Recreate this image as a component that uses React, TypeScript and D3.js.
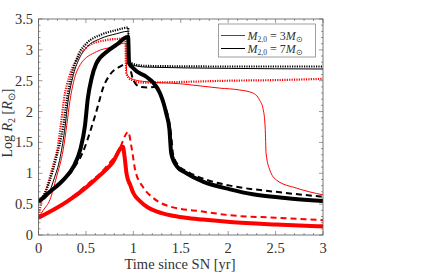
import React from "react";
import * as d3 from "d3";

// ---- data ----
const xTicks = [0, 0.5, 1, 1.5, 2, 2.5, 3];
const yTicks = [0, 0.5, 1, 1.5, 2, 2.5, 3, 3.5];

// 3 Msun (red)
const r3ThickX = [0, 0.3, 0.51, 0.65, 0.78, 0.89, 0.905, 0.93, 0.97, 1.0, 1.07, 1.15, 1.25, 1.39, 1.55, 1.73, 2.02, 2.5, 3];
const r3ThickY = [0.28, 0.54, 0.78, 0.97, 1.17, 1.43, 1.3, 0.98, 0.8, 0.68, 0.55, 0.45, 0.38, 0.32, 0.28, 0.25, 0.21, 0.17, 0.14];
const r3DashX = [0, 0.3, 0.5, 0.7, 0.85, 0.946, 0.98, 1.02, 1.1, 1.21, 1.39, 1.73, 2.02, 2.5, 3];
const r3DashY = [0.28, 0.55, 0.8, 1.08, 1.38, 1.67, 1.43, 1.05, 0.78, 0.6, 0.46, 0.38, 0.32, 0.28, 0.24];
const r3DotX = [0, 0.02, 0.09, 0.16, 0.2, 0.24, 0.27, 0.33, 0.44, 0.54, 0.72, 0.89, 0.915, 0.925, 0.97, 1.1, 1.5, 2, 2.5, 3];
const r3DotY = [0.28, 0.46, 0.78, 1.16, 1.4, 1.84, 2.21, 2.59, 2.92, 3.08, 3.16, 3.19, 3.2, 2.62, 2.52, 2.47, 2.48, 2.5, 2.51, 2.53];
const r3ThinX = [0, 0.05, 0.12, 0.19, 0.26, 0.3, 0.33, 0.37, 0.44, 0.61, 0.79, 0.91, 0.92, 0.93, 0.97, 1.1, 1.5, 1.91, 2.12, 2.26, 2.33, 2.37, 2.39, 2.4, 2.44, 2.51, 2.72, 3];
const r3ThinY = [0.28, 0.4, 0.57, 0.94, 1.38, 1.8, 2.16, 2.48, 2.76, 2.97, 3.05, 3.11, 3.11, 2.62, 2.54, 2.49, 2.45, 2.38, 2.35, 2.3, 2.19, 2.03, 1.75, 1.32, 1.05, 0.89, 0.76, 0.65];

// 7 Msun (black)
const b7ThickX = [0, 0.12, 0.26, 0.37, 0.44, 0.49, 0.52, 0.56, 0.61, 0.72, 0.82, 0.94, 0.945, 0.955, 1.0, 1.14, 1.21, 1.28, 1.32, 1.35, 1.38, 1.4, 1.46, 1.56, 1.74, 2.02, 2.26, 2.6, 3];
const b7ThickY = [0.54, 0.7, 0.89, 1.11, 1.38, 1.77, 2.21, 2.54, 2.78, 2.97, 3.08, 3.21, 3.21, 2.8, 2.7, 2.56, 2.47, 2.3, 2.13, 1.95, 1.72, 1.32, 1.11, 1.0, 0.86, 0.74, 0.66, 0.6, 0.55];
const b7DashX = [0, 0.12, 0.26, 0.37, 0.47, 0.56, 0.6, 0.63, 0.68, 0.75, 0.86, 0.945, 1.0, 1.07, 1.15, 1.22, 1.29, 1.33, 1.37, 1.4, 1.42, 1.48, 1.58, 1.76, 2.02, 2.5, 3];
const b7DashY = [0.54, 0.7, 0.88, 1.08, 1.35, 1.75, 1.95, 2.11, 2.38, 2.59, 2.73, 2.78, 2.51, 2.4, 2.39, 2.4, 2.28, 2.1, 1.9, 1.6, 1.3, 1.12, 1.02, 0.9, 0.8, 0.7, 0.62];
const b7DotX = [0, 0.05, 0.12, 0.19, 0.26, 0.3, 0.35, 0.42, 0.51, 0.65, 0.82, 0.94, 0.945, 0.955, 1.0, 1.14, 2, 3];
const b7DotY = [0.54, 0.62, 0.89, 1.27, 1.75, 2.21, 2.59, 2.92, 3.11, 3.24, 3.32, 3.36, 3.36, 2.82, 2.77, 2.74, 2.73, 2.73];
const b7ThinX = [0, 0.09, 0.16, 0.23, 0.28, 0.31, 0.36, 0.43, 0.52, 0.65, 0.82, 0.94, 0.945, 0.955, 1.0, 1.14, 2, 3];
const b7ThinY = [0.54, 0.62, 0.89, 1.27, 1.75, 2.15, 2.55, 2.86, 3.06, 3.18, 3.26, 3.3, 3.3, 2.8, 2.75, 2.72, 2.7, 2.69];

const legendMasses = ["3", "7"];

const RED = "#ff0000";
const BLACK = "#000000";

type Series = { xs: number[]; ys: number[]; color: string; width: number; dash?: string };

const series: Series[] = [
  { xs: r3ThinX, ys: r3ThinY, color: RED, width: 1 },
  { xs: b7ThinX, ys: b7ThinY, color: BLACK, width: 1 },
  { xs: r3DotX, ys: r3DotY, color: RED, width: 2.2, dash: "1.2 1.2" },
  { xs: b7DotX, ys: b7DotY, color: BLACK, width: 2.2, dash: "1.2 1.2" },
  { xs: r3DashX, ys: r3DashY, color: RED, width: 2, dash: "6 4" },
  { xs: b7DashX, ys: b7DashY, color: BLACK, width: 2, dash: "6 4" },
  { xs: r3ThickX, ys: r3ThickY, color: RED, width: 4 },
  { xs: b7ThickX, ys: b7ThickY, color: BLACK, width: 4 },
];

const FONT = "Liberation Serif, Times New Roman, serif";

export default function App() {
  const W = 435, H = 273;
  const L = 38.5, R = 323, T = 19, B = 235;
  const x = d3.scaleLinear().domain([0, 3]).range([L, R]);
  const y = d3.scaleLinear().domain([0, 3.5]).range([B, T]);
  const line = d3
    .line<[number, number]>()
    .x((d) => x(d[0]))
    .y((d) => y(d[1]))
    .curve(d3.curveMonotoneX);

  const xMinor = d3.range(0, 3.0001, 0.1);
  const yMinor = d3.range(0, 3.5001, 0.1);
  const axisColor = "#555";

  return (
    <svg width={W} height={H} style={{ position: "absolute", left: 0, top: 0 }}>
      <rect x={0} y={0} width={W} height={H} fill="#fff" />
      <defs>
        <clipPath id="plotclip">
          <rect x={L} y={T} width={R - L} height={B - T} />
        </clipPath>
      </defs>
      <g clipPath="url(#plotclip)">
        {series.map((s, i) => (
          <path
            key={i}
            d={line(s.xs.map((v, j) => [v, s.ys[j]] as [number, number])) || ""}
            fill="none"
            stroke={s.color}
            strokeWidth={s.width}
            strokeDasharray={s.dash}
            strokeLinejoin="round"
          />
        ))}
      </g>
      {/* ticks */}
      <g stroke={axisColor} strokeWidth={0.6}>
        {xMinor.map((v, i) => {
          const major = Math.abs(v * 2 - Math.round(v * 2)) < 1e-6;
          const len = major ? 4 : 2;
          return (
            <g key={"xt" + i}>
              <line x1={x(v)} x2={x(v)} y1={B} y2={B - len} />
              <line x1={x(v)} x2={x(v)} y1={T} y2={T + len} />
            </g>
          );
        })}
        {yMinor.map((v, i) => {
          const major = Math.abs(v * 2 - Math.round(v * 2)) < 1e-6;
          const len = major ? 4 : 2;
          return (
            <g key={"yt" + i}>
              <line x1={L} x2={L + len} y1={y(v)} y2={y(v)} />
              <line x1={R} x2={R - len} y1={y(v)} y2={y(v)} />
            </g>
          );
        })}
      </g>
      <rect x={L} y={T} width={R - L} height={B - T} fill="none" stroke={axisColor} strokeWidth={0.8} />
      {/* tick labels */}
      <g style={{ fontFamily: FONT }} fontSize={14.5} fill="#333">
        {xTicks.map((v) => (
          <text key={"xl" + v} x={x(v)} y={253} textAnchor="middle">
            {String(v)}
          </text>
        ))}
        {yTicks.map((v) => (
          <text key={"yl" + v} x={33} y={y(v) + 5} textAnchor="end">
            {String(v)}
          </text>
        ))}
      </g>
      {/* axis labels */}
      <text x={180} y={269} textAnchor="middle" style={{ fontFamily: FONT }} fontSize={14.5} fill="#333">
        Time since SN [yr]
      </text>
      <text
        transform={`translate(12,${(T + B) / 2 - 4}) rotate(-90)`}
        textAnchor="middle"
        style={{ fontFamily: FONT }}
        fontSize={14}
        fill="#333"
      >
        Log <tspan fontStyle="italic">R</tspan>
        <tspan fontSize={10} dy={3}>2</tspan>
        <tspan dy={-3}> [</tspan>
        <tspan fontStyle="italic">R</tspan>
        <tspan fontSize={10} dy={3}>⊙</tspan>
        <tspan dy={-3}>]</tspan>
      </text>
      {/* legend */}
      <g>
        <rect x={218.5} y={24} width={97} height={33} fill="#fff" stroke="#888" strokeWidth={0.8} />
        <line x1={221} x2={245} y1={35.5} y2={35.5} stroke={RED} strokeWidth={1} />
        <line x1={221} x2={245} y1={48.5} y2={48.5} stroke={BLACK} strokeWidth={1} />
        {legendMasses.map((m, i) => (
          <text key={m} x={247.5} y={39.5 + i * 13} style={{ fontFamily: FONT }} fontSize={12} fill="#333">
            <tspan fontStyle="italic">M</tspan>
            <tspan fontSize={7.5} dy={2.5}>2,0</tspan>
            <tspan dy={-2.5}> = {m}</tspan>
            <tspan fontStyle="italic">M</tspan>
            <tspan fontSize={7.5} dy={2.5}>⊙</tspan>
          </text>
        ))}
      </g>
    </svg>
  );
}
